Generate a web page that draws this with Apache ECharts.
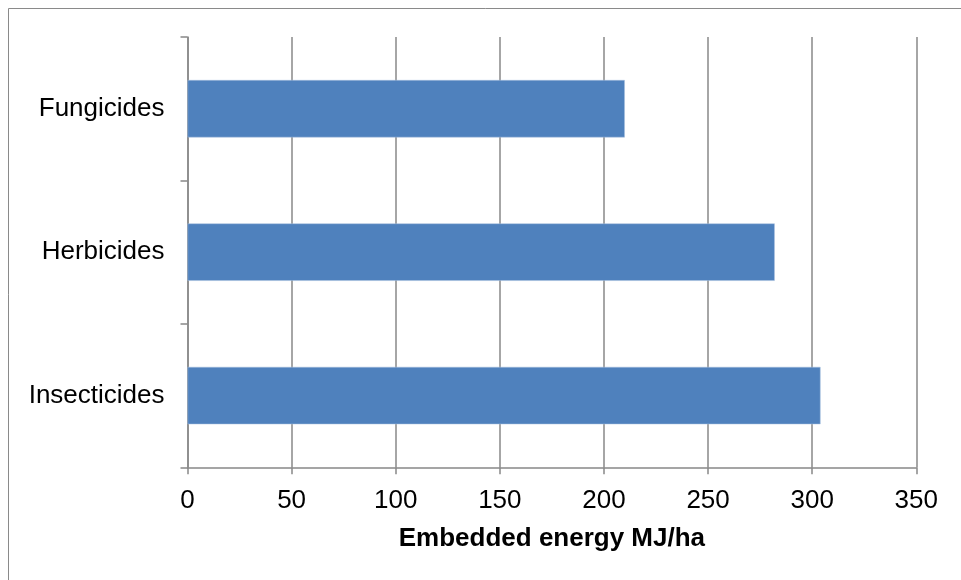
<!DOCTYPE html>
<html>
<head>
<meta charset="utf-8">
<script src="https://cdn.jsdelivr.net/npm/echarts@6/dist/echarts.min.js"></script>
<style>
html,body{margin:0;padding:0;background:#fff;}
#chart{width:961px;height:580px;}
</style>
</head>
<body>
<div id="chart"></div>
<script>
const categories = ['Insecticides', 'Herbicides', 'Fungicides'];
const values = [304, 282, 210];
const xTicks = [0, 50, 100, 150, 200, 250, 300, 350];
const axisTitle = 'Embedded energy MJ/ha';

const FONT = '"Liberation Sans", Arial, sans-serif';
const chart = echarts.init(document.getElementById('chart'), null, {renderer: 'canvas'});
chart.setOption({
  animation: false,
  backgroundColor: '#fff',
  graphic: [{
    type: 'rect',
    shape: {x: 8.5, y: 8.5, width: 1000, height: 1000},
    style: {fill: 'none', stroke: '#8a8a8a', lineWidth: 1},
    z: -1
  }],
  grid: {left: 187.5, right: 44.7, top: 37, bottom: 112.7, containLabel: false},
  xAxis: {
    type: 'value',
    min: xTicks[0],
    max: xTicks[xTicks.length - 1],
    interval: xTicks[1] - xTicks[0],
    name: axisTitle,
    nameLocation: 'middle',
    nameGap: 59,
    nameTextStyle: {fontFamily: FONT, fontSize: 26, fontWeight: 'bold', color: '#000'},
    axisLine: {show: true, lineStyle: {color: '#888', width: 1.5}},
    axisTick: {show: true, length: 7, lineStyle: {color: '#888', width: 1.5}},
    axisLabel: {fontFamily: FONT, fontSize: 26, color: '#000', margin: 21},
    splitLine: {show: true, lineStyle: {color: '#888', width: 1.5}}
  },
  yAxis: {
    type: 'category',
    data: categories,
    axisLine: {show: true, lineStyle: {color: '#888', width: 1.5}},
    axisTick: {show: true, length: 7, alignWithLabel: false, lineStyle: {color: '#888', width: 1.5}},
    axisLabel: {fontFamily: FONT, fontSize: 26, color: '#000', margin: 23, padding: [6, 0, 0, 0]},
    splitLine: {show: false}
  },
  series: [{
    type: 'bar',
    data: values,
    barCategoryGap: '60%',
    itemStyle: {color: '#4F81BD', borderColor: '#a9c0df', borderWidth: 0.5}
  }]
});
</script>
</body>
</html>
